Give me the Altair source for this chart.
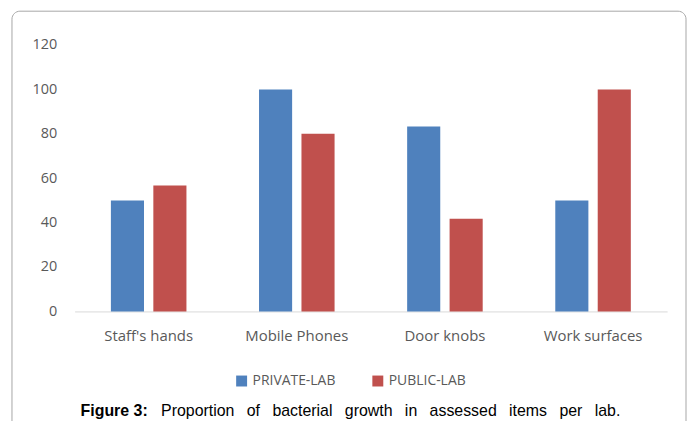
import altair as alt
import pandas as pd

categories = ["Staff's hands", "Mobile Phones", "Door knobs", "Work surfaces"]
private_lab = [50, 100, 83.3, 50]
public_lab = [56.7, 80, 41.7, 100]
series = ["PRIVATE-LAB", "PUBLIC-LAB"]
colors = ["#4F81BD", "#C0504D"]
y_ticks = [0, 20, 40, 60, 80, 100, 120]
caption_bold = "Figure 3:"
caption_words = ["Proportion", "of", "bacterial", "growth", "in", "assessed", "items", "per", "lab."]

rows = []
for i, c in enumerate(categories):
    rows.append({"item": c, "lab": series[0], "value": private_lab[i]})
    rows.append({"item": c, "lab": series[1], "value": public_lab[i]})
df = pd.DataFrame(rows)

# justified caption: wider word spacing (normal space + en space)
caption_rest = " \u2002".join(caption_words)

W, H = 596, 268
FONT = "Open Sans"

bars = alt.Chart(df).mark_bar().encode(
    x=alt.X("item:N", sort=categories,
            scale=alt.Scale(paddingInner=0.49, paddingOuter=0.245),
            axis=alt.Axis(title=None, labelAngle=0, ticks=False, domainColor="#D9D9D9",
                          labelColor="#595959", labelFontSize=15, labelFont=FONT,
                          labelPadding=17)),
    xOffset=alt.XOffset("lab:N", sort=series, scale=alt.Scale(paddingInner=0.22)),
    y=alt.Y("value:Q", scale=alt.Scale(domain=[0, 120], nice=False),
            axis=alt.Axis(title=None, values=y_ticks, grid=False, domain=False, ticks=False,
                          labelColor="#595959", labelFontSize=14.5, labelFont=FONT,
                          labelPadding=18)),
    color=alt.Color("lab:N", sort=series, scale=alt.Scale(domain=series, range=colors),
                    legend=alt.Legend(title=None, orient="none", legendX=161, legendY=331,
                                      direction="horizontal", symbolType="square",
                                      symbolSize=121, symbolStrokeWidth=0,
                                      labelFontSize=14, labelFont=FONT, labelColor="#595959",
                                      labelOffset=4, columnPadding=35)),
)

border = alt.Chart(alt.Data(values=[{"k": 1}])).mark_rect(
    fillOpacity=0, stroke="#A6A6A6", strokeWidth=1, cornerRadius=8
).encode(x=alt.value(-63), x2=alt.value(615), y=alt.value(-34), y2=alt.value(400))

cap1 = alt.Chart(alt.Data(values=[{"t": caption_bold}])).mark_text(
    align="left", baseline="alphabetic", font="Liberation Sans", fontSize=16,
    fontWeight="bold", color="#000000"
).encode(x=alt.value(6), y=alt.value(373), text="t:N")

cap2 = alt.Chart(alt.Data(values=[{"t": caption_rest}])).mark_text(
    align="left", baseline="alphabetic", font="Liberation Sans", fontSize=16,
    color="#000000"
).encode(x=alt.value(87), y=alt.value(373), text="t:N")

chart = alt.layer(bars, border, cap1, cap2).properties(
    width=W, height=H,
    autosize=alt.AutoSizeParams(type="none"),
    padding={"left": 67, "top": 36, "right": 20, "bottom": 109},
).configure_view(strokeWidth=0)

chart.save("out.html", embed_options={"renderer": "svg", "actions": False})
